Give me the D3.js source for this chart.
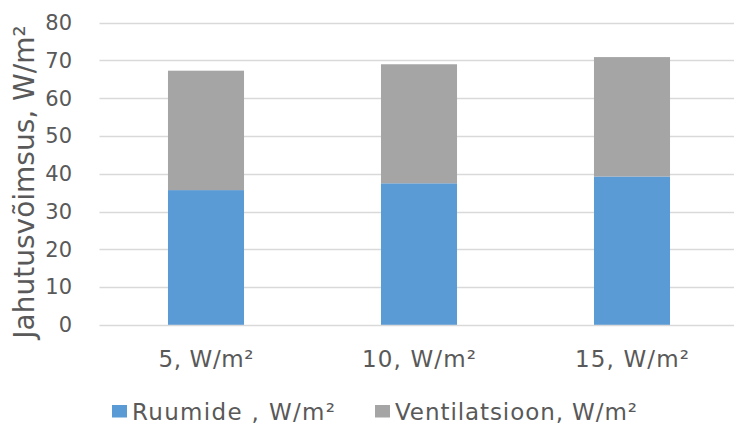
<!DOCTYPE html>
<html>
<head>
<meta charset="utf-8">
<script src="https://cdn.jsdelivr.net/npm/d3@7"></script>
<style>
  html, body { margin: 0; padding: 0; background: #fff; }
  svg { display: block; }
  text { font-family: "DejaVu Sans", Verdana, sans-serif; fill: #595959; }
</style>
</head>
<body>
<svg id="chart" width="734" height="423"></svg>
<script>
// Cooling capacity by internal gain level
const categories = ["5, W/m²", "10, W/m²", "15, W/m²"];
const ruumide = [35.7, 37.5, 39.3];
const ventilatsioon = [31.6, 31.5, 31.6];
const seriesNames = ["Ruumide , W/m²", "Ventilatsioon, W/m²"];
const seriesColors = ["#5B9BD5", "#A5A5A5"];
const yTicks = [0, 10, 20, 30, 40, 50, 60, 70, 80];

const svg = d3.select("#chart");
const W = 734, H = 423;
const plot = { left: 99.5, right: 738.5, top: 22.7, bottom: 325 };

const x = d3.scaleBand().domain(categories).range([plot.left, plot.right]).paddingInner(0.643).paddingOuter(0.3215);
const y = d3.scaleLinear().domain([0, 80]).range([plot.bottom, plot.top]);

const rows = categories.map((c, i) => ({ cat: c, ruumide: ruumide[i], ventilatsioon: ventilatsioon[i] }));
const stack = d3.stack().keys(["ruumide", "ventilatsioon"])(rows);

// gridlines
svg.append("g")
  .selectAll("line")
  .data(yTicks.filter(t => t > 0))
  .join("line")
  .attr("x1", plot.left).attr("x2", W)
  .attr("y1", d => Math.round(y(d)) + 0.5).attr("y2", d => Math.round(y(d)) + 0.5)
  .attr("stroke", "#D9D9D9").attr("stroke-width", 1.3);

// stacked bars
svg.append("g")
  .selectAll("g")
  .data(stack)
  .join("g")
  .attr("fill", (d, i) => seriesColors[i])
  .selectAll("rect")
  .data(d => d)
  .join("rect")
  .attr("x", d => x(d.data.cat))
  .attr("width", x.bandwidth())
  .attr("y", d => y(d[1]))
  .attr("height", d => y(d[0]) - y(d[1]));

// baseline axis
svg.append("line")
  .attr("x1", plot.left).attr("x2", W)
  .attr("y1", y(0) + 0.5).attr("y2", y(0) + 0.5)
  .attr("stroke", "#D9D9D9").attr("stroke-width", 1.3);

// y axis labels
const yAxis = d3.axisLeft(y).tickValues(yTicks).tickSize(0).tickPadding(0);
const gy = svg.append("g").attr("transform", "translate(72,0)").call(yAxis);
gy.select(".domain").remove();
gy.selectAll("text")
  .attr("font-family", "DejaVu Sans, Verdana, sans-serif")
  .attr("font-size", 21).attr("fill", "#595959");

// x axis labels
const xLabelWidth = [95, 114, 114];
const xAxis = d3.axisBottom(x).tickSize(0).tickPadding(0);
const gx = svg.append("g").attr("transform", "translate(0,366.5)").call(xAxis);
gx.select(".domain").remove();
gx.selectAll("text")
  .attr("dy", null).attr("y", 0)
  .attr("font-family", "DejaVu Sans, Verdana, sans-serif")
  .attr("font-size", 23).attr("fill", "#595959")
  .attr("textLength", (d, i) => xLabelWidth[i])
  .attr("lengthAdjust", "spacing");

// y axis title
svg.append("text")
  .attr("transform", "translate(34,182) rotate(-90)")
  .attr("text-anchor", "middle")
  .attr("font-size", 28)
  .text("Jahutusvõimsus, W/m²");

// legend
const legendX = [112, 375];
const legendTextWidth = [203, 242];
const lg = svg.append("g").selectAll("g").data(seriesNames).join("g")
  .attr("transform", (d, i) => `translate(${legendX[i]},405)`);
lg.append("rect").attr("width", 15).attr("height", 12.5).attr("fill", (d, i) => seriesColors[i]);
lg.append("text").attr("x", 20).attr("y", 14.5)
  .attr("font-size", 23)
  .attr("textLength", (d, i) => legendTextWidth[i])
  .attr("lengthAdjust", "spacing")
  .text(d => d);
</script>
</body>
</html>
